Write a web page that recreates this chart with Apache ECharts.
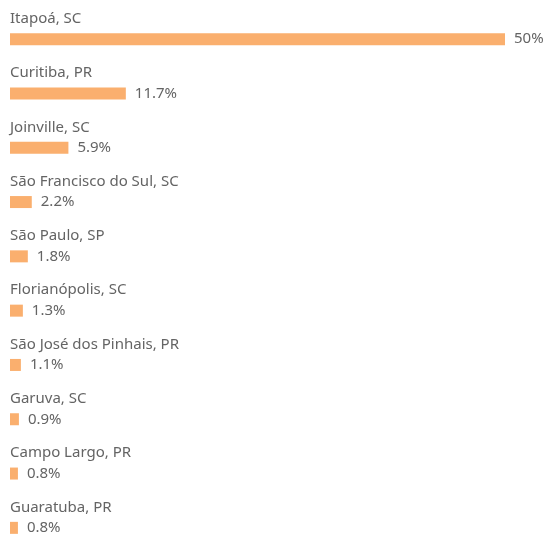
<!DOCTYPE html>
<html>
<head>
<meta charset="utf-8">
<script src="https://cdn.jsdelivr.net/npm/echarts@6/dist/echarts.min.js"></script>
<style>
  html, body { margin: 0; padding: 0; background: #fff; }
  #chart { width: 545px; height: 538px; }
</style>
</head>
<body>
<div id="chart"></div>
<script>
// cidades e percentuais
const cities = ['Itapoá, SC', 'Curitiba, PR', 'Joinville, SC', 'São Francisco do Sul, SC', 'São Paulo, SP',
  'Florianópolis, SC', 'São José dos Pinhais, PR', 'Garuva, SC', 'Campo Largo, PR', 'Guaratuba, PR'];
const shares = [50, 11.7, 5.9, 2.2, 1.8, 1.3, 1.1, 0.9, 0.8, 0.8];

const barColor = '#FAAF6E';
const textColor = '#646464';
const font = '"Segoe UI", "Noto Sans", sans-serif';

var myChart = echarts.init(document.getElementById('chart'));
myChart.setOption({
  animation: false,
  grid: { left: 10, top: 12, width: 495, height: 543, outerBoundsMode: 'none', containLabel: false },
  xAxis: {
    type: 'value',
    min: 0,
    max: 50,
    show: false
  },
  yAxis: {
    type: 'category',
    data: cities,
    inverse: true,
    axisLine: { show: false },
    axisTick: { show: false },
    axisLabel: {
      inside: true,
      margin: 0,
      align: 'left',
      verticalAlign: 'bottom',
      padding: [0, 0, 13, 0],
      color: textColor,
      fontFamily: font,
      fontSize: 15
    }
  },
  series: [
    {
      type: 'bar',
      data: shares,
      barWidth: 12,
      itemStyle: { color: barColor },
      label: {
        show: true,
        position: 'right',
        distance: 9,
        formatter: '{c}%',
        color: textColor,
        fontFamily: font,
        fontSize: 15
      }
    }
  ]
});
</script>
</body>
</html>
